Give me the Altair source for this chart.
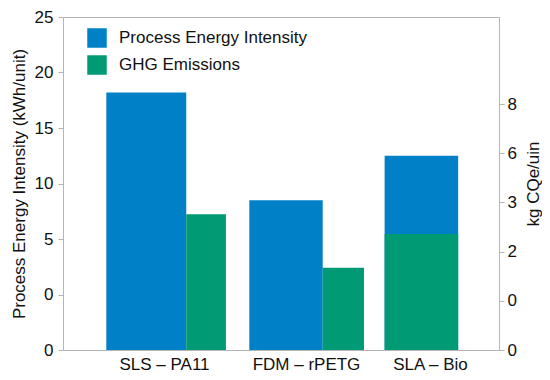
import altair as alt
import pandas as pd

# ---- data ----
categories = ["SLS – PA11", "FDM – rPETG", "SLA – Bio"]
energy = [18.2, 8.5, 12.5]          # left axis (kWh/unit)
ghg = [2.76, 1.67, 2.36]            # right axis positions
series = ["Process Energy Intensity", "GHG Emissions"]
left_tick_labels = ["0", "0", "5", "10", "15", "20", "25"]
right_tick_labels = ["0", "0", "2", "3", "6", "8"]

# ---- layout (category slot units) ----
group_left = [0.298, 1.282, 2.213]
blue_w = [0.550, 0.505, 0.506]
green_w = [0.273, 0.284, 0.506]
stacked = [False, False, True]
label_pos = [0.695, 1.672, 2.525]

BLUE = "#0080c6"
GREEN = "#009a74"
GRAY = "#b5b5b5"
FONT = "Liberation Sans"

rows = []
for i, c in enumerate(categories):
    x0 = group_left[i]
    rows.append(dict(cat=c, series=series[0], x0=x0, x1=x0 + blue_w[i], v=energy[i]))
    g0 = x0 if stacked[i] else x0 + blue_w[i]
    rows.append(dict(cat=c, series=series[1], x0=g0, x1=g0 + green_w[i], v=ghg[i]))
df = pd.DataFrame(rows)

cat_js = "[" + ",".join("'%s'" % c for c in categories) + "]"
left_js = "[" + ",".join("'%s'" % s for s in left_tick_labels) + "]"
right_js = "[" + ",".join("'%s'" % s for s in right_tick_labels) + "]"

xenc = alt.X("x0:Q", scale=alt.Scale(domain=[0, 3], nice=False, zero=False),
             axis=alt.Axis(values=label_pos, labelExpr=cat_js + "[floor(datum.value)]",
                           ticks=False, grid=False, title=None, labelPadding=6,
                           domainColor=GRAY, labelFontSize=17))
color = alt.Color(
    "series:N",
    scale=alt.Scale(domain=series, range=[BLUE, GREEN]),
    sort=series,
    legend=alt.Legend(
        title=None, orient="none", legendX=24, legendY=11,
        symbolType="square", symbolSize=380, symbolStrokeWidth=0,
        labelFontSize=17, labelFont=FONT, labelColor="#111111", labelLimit=400,
        rowPadding=7, labelOffset=12, padding=0,
    ),
)

blue = alt.Chart(df).transform_filter(alt.datum.series == series[0]).mark_bar().encode(
    x=xenc,
    x2="x1:Q",
    y=alt.Y("v:Q", scale=alt.Scale(domain=[-5, 25], nice=False, zero=False),
            axis=alt.Axis(values=[-5, 0, 5, 10, 15, 20, 25],
                          labelExpr=left_js + "[(datum.value + 5) / 5]",
                          title="Process Energy Intensity (kWh/unit)",
                          grid=False, tickSize=5, tickColor=GRAY, domainColor=GRAY,
                          labelPadding=5, titlePadding=6, labelFontSize=17)),
    y2=alt.datum(-5),
    color=color,
)

green = alt.Chart(df).transform_filter(alt.datum.series == series[1]).mark_bar().encode(
    x=xenc,
    x2="x1:Q",
    y=alt.Y("v:Q", scale=alt.Scale(domain=[0, 6.77], nice=False, zero=True),
            axis=alt.Axis(orient="right", values=[0, 1, 2, 3, 4, 5],
                          labelExpr=right_js + "[datum.value]",
                          title="kg CQe/uin", titleAngle=270, titleBaseline="top",
                          grid=False, tickSize=5, tickColor=GRAY, domainColor=GRAY,
                          labelPadding=3, titlePadding=9, labelFontSize=17)),
    y2=alt.datum(0),
    color=color,
)

chart = alt.layer(blue, green).resolve_scale(y="independent").properties(
    width=436, height=333,
    autosize=alt.AutoSizeParams(type="none"),
    padding={"left": 55, "top": 9, "right": 43, "bottom": 22},
).configure_view(stroke=GRAY, strokeWidth=1).configure_axis(
    labelFont=FONT, titleFont=FONT, labelColor="#111111", titleColor="#111111",
    titleFontSize=17, titleFontWeight="normal",
)

chart.save("out.html", embed_options={"renderer": "svg", "actions": False})
